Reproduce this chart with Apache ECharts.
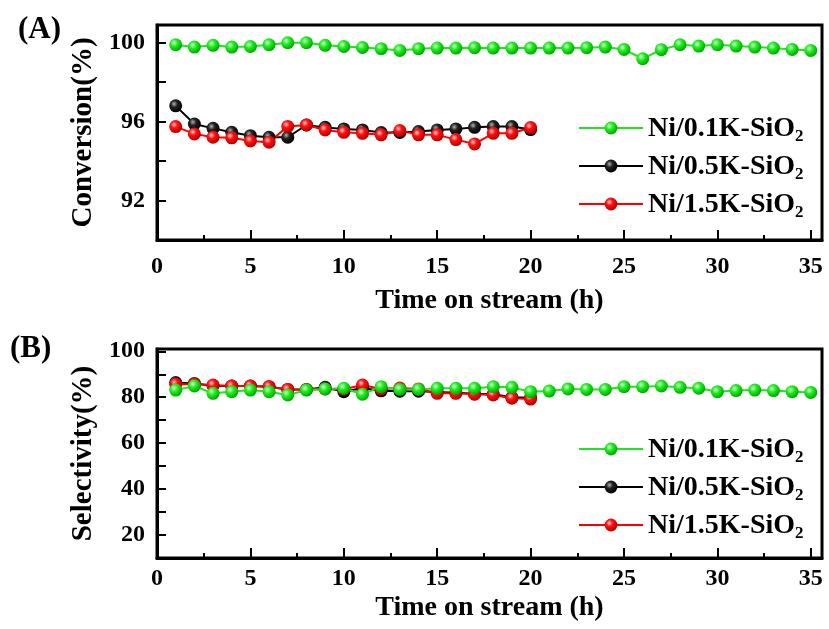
<!DOCTYPE html>
<html><head><meta charset="utf-8">
<script src="https://cdn.jsdelivr.net/npm/echarts@6/dist/echarts.min.js"></script>
<style>html,body{margin:0;padding:0;background:#fff}#c{width:829px;height:629px}</style>
</head><body><div id="c"></div>
<script>
var hours35 = [1,2,3,4,5,6,7,8,9,10,11,12,13,14,15,16,17,18,19,20,21,22,23,24,25,26,27,28,29,30,31,32,33,34,35];
var hours20 = [1,2,3,4,5,6,7,8,9,10,11,12,13,14,15,16,17,18,19,20];
var seriesNames = ['Ni/0.1K-SiO2','Ni/0.5K-SiO2','Ni/1.5K-SiO2'];
var xTicks = [0,5,10,15,20,25,30,35];
var convTicks = [92,96,100];
var selTicks = [20,40,60,80,100];

var convGreen = [99.90,99.78,99.87,99.78,99.81,99.90,100.0,100.0,99.87,99.81,99.76,99.70,99.61,99.70,99.73,99.73,99.75,99.73,99.73,99.73,99.73,99.73,99.75,99.78,99.66,99.19,99.65,99.90,99.83,99.90,99.83,99.78,99.73,99.66,99.61];
var convBlack = [96.80,95.88,95.66,95.46,95.29,95.21,95.21,95.83,95.71,95.63,95.58,95.45,95.45,95.50,95.58,95.63,95.71,95.75,95.75,95.60];
var convRed   = [95.75,95.38,95.21,95.18,95.02,94.96,95.76,95.83,95.58,95.46,95.41,95.33,95.55,95.33,95.33,95.09,94.87,95.41,95.41,95.70];

var selGreen = [83.1,84.9,81.7,82.4,83.1,82.4,81.0,83.1,83.6,83.9,81.3,84.6,83.4,83.4,83.9,83.9,83.9,84.6,84.3,82.4,82.7,83.6,83.4,83.4,84.6,84.6,84.9,84.3,83.9,82.4,82.9,83.1,82.9,82.4,82.1];
var selBlack = [86.4,86.0,85.0,84.9,84.9,84.6,83.4,83.4,84.3,82.4,84.0,82.8,82.6,82.6,82.3,82.0,81.5,81.3,80.0,79.8];
var selRed   = [85.7,85.6,85.3,84.9,84.9,84.6,83.4,83.3,83.6,83.5,85.3,83.6,84.0,83.6,81.7,81.7,81.3,81.0,79.6,79.2];

function zip(xs, ys){ return ys.map(function(v,i){ return [xs[i], v]; }); }
function ball(c0, c1, c2){
  return {type:'radial', x:0.38, y:0.35, r:0.65, colorStops:[{offset:0,color:c0},{offset:0.4,color:c1},{offset:1,color:c2}]};
}
var styles = {
  'Ni/0.1K-SiO2': {line:'#1ee61e', fill: ball('#d8ffd8','#22f022','#00a800')},
  'Ni/0.5K-SiO2': {line:'#000000', fill: ball('#b0b0b0','#222222','#000000')},
  'Ni/1.5K-SiO2': {line:'#ff0000', fill: ball('#ffc8c8','#ff1010','#b80000')}
};
function mk(name, data, gi){
  var s = styles[name];
  return {
    type:'line', name:name, xAxisIndex:gi, yAxisIndex:gi, data:data,
    symbol:'circle', symbolSize:13, showSymbol:true,
    lineStyle:{color:s.line, width:2},
    itemStyle:{color:s.fill, borderWidth:0},
    color:s.line, animation:false
  };
}
var font = 'Liberation Serif';
function xAxis(gi){
  return {
    type:'value', gridIndex:gi, min:0, max:35.6, interval:5,
    name:'Time on stream (h)', nameLocation:'middle', nameGap: gi===0?47:36,
    nameTextStyle:{fontFamily:font, fontWeight:'bold', fontSize:28, color:'#000'},
    axisLine:{show:true, lineStyle:{color:'#000', width:3}},
    axisTick:{show:true, inside:true, length:10, lineStyle:{color:'#000', width:2}},
    minorTick:{show:true, splitNumber:2, length:5, lineStyle:{color:'#000', width:2}},
    splitLine:{show:false},
    axisLabel:{fontFamily:font, fontWeight:'bold', fontSize:24, color:'#000', margin: gi===0?15:9,
      formatter:function(v){ return xTicks.indexOf(v)>=0 ? String(v) : ''; }}
  };
}
function yAxis(gi, min, max, interval, ticks, name){
  return {
    type:'value', gridIndex:gi, min:min, max:max, interval:interval,
    name:name, nameLocation:'middle', nameRotate:90, nameGap:57,
    nameTextStyle:{fontFamily:font, fontWeight:'bold', fontSize:29, color:'#000'},
    axisLine:{show:true, lineStyle:{color:'#000', width:3}},
    axisTick:{show:true, inside:true, length:9, lineStyle:{color:'#000', width:2}},
    splitLine:{show:false},
    axisLabel:{fontFamily:font, fontWeight:'bold', fontSize:24, color:'#000', margin:12,
      formatter:function(v){ return ticks.indexOf(Math.round(v*100)/100)>=0 ? String(v) : ''; }}
  };
}
function legend(top){
  return {
    orient:'vertical', left:578, top:top, padding:0, itemWidth:64, itemHeight:16, itemGap:8,
    data:seriesNames,
    formatter:function(n){ return '{a|' + n.slice(0,-1) + '}{s|2}'; },
    textStyle:{color:'#000', rich:{
      a:{fontFamily:font, fontWeight:'bold', fontSize:28, color:'#000', lineHeight:30, verticalAlign:'bottom'},
      s:{fontFamily:font, fontWeight:'bold', fontSize:17, color:'#000', lineHeight:30, verticalAlign:'bottom', padding:[0,0,-2,0]}
    }}
  };
}
var option = {
  backgroundColor:'#fff',
  animation:false,
  title:[
    {text:'(A)', left:13, top:9, textStyle:{fontFamily:font, fontWeight:'bold', fontSize:31, color:'#000'}},
    {text:'(B)', left:5, top:328, textStyle:{fontFamily:font, fontWeight:'bold', fontSize:31, color:'#000'}}
  ],
  grid:[
    {left:157, right:7, top:25, height:215, show:true, borderColor:'#000', borderWidth:3, backgroundColor:'transparent'},
    {left:157, right:7, top:349, height:209, show:true, borderColor:'#000', borderWidth:3, backgroundColor:'transparent'}
  ],
  legend:[legend(115), legend(436)],
  xAxis:[xAxis(0), xAxis(1)],
  yAxis:[yAxis(0, 90, 100.9, 2, convTicks, 'Conversion(%)'), yAxis(1, 10, 101, 10, selTicks, 'Selectivity(%)')],
  series:[
    mk('Ni/0.5K-SiO2', zip(hours20, convBlack), 0),
    mk('Ni/1.5K-SiO2', zip(hours20, convRed), 0),
    mk('Ni/0.1K-SiO2', zip(hours35, convGreen), 0),
    mk('Ni/0.5K-SiO2', zip(hours20, selBlack), 1),
    mk('Ni/1.5K-SiO2', zip(hours20, selRed), 1),
    mk('Ni/0.1K-SiO2', zip(hours35, selGreen), 1)
  ]
};
var chart = echarts.init(document.getElementById('c'), null, {renderer:'canvas'});
chart.setOption(option);
</script>
</body></html>
